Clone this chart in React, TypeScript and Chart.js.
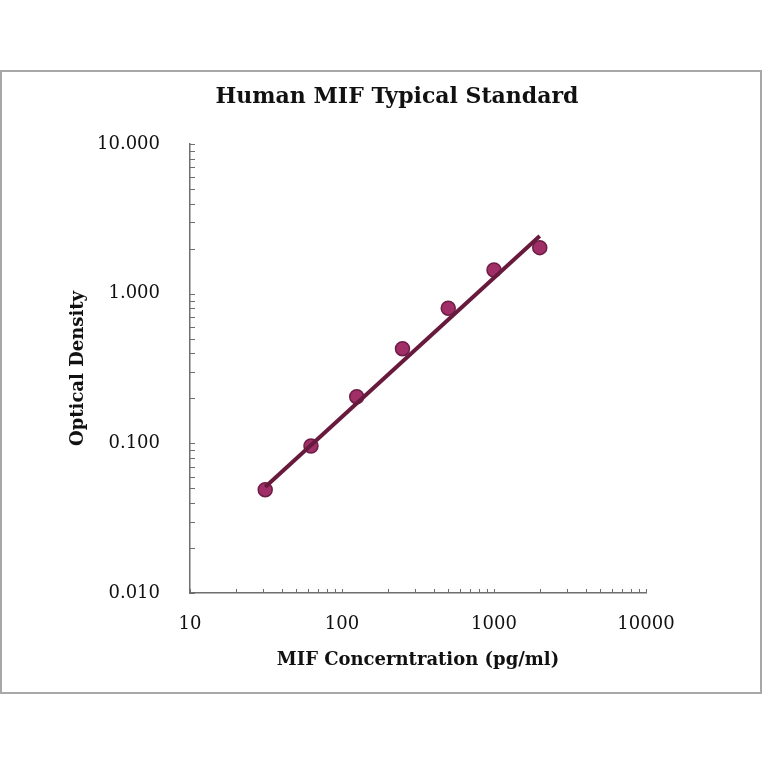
import { useEffect, useRef } from 'react';
import { Chart, registerables } from 'chart.js';

Chart.register(...registerables);

// standard curve (pg/ml vs OD)
const concentrations = [31.25, 62.5, 125, 250, 500, 1000, 2000];
const odValues = [0.049, 0.096, 0.205, 0.429, 0.8, 1.44, 2.03];

// fitted power trend line, end points
const fitX = [31.25, 2000];
const fitY = [0.051, 2.43];

const xMajor = [10, 100, 1000, 10000];
const xTickLabels = ['10', '100', '1000', '10000'];
const yMajor = [0.01, 0.1, 1, 10];
const yTickLabels = ['0.010', '0.100', '1.000', '10.000'];
const minorSteps = [1, 2, 3, 4, 5, 6, 7, 8, 9];

const chartTitle = 'Human MIF Typical Standard';
const xTitle = 'MIF Concerntration (pg/ml)';
const yTitle = 'Optical Density';

const FONT = "'DejaVu Serif', serif";
const AXIS_COLOR = '#6f6f6f';

const logTicks = (majors: number[]) => {
  const out: number[] = [];
  majors.slice(0, -1).forEach((m) => minorSteps.forEach((s) => out.push(m * s)));
  out.push(majors[majors.length - 1]);
  return out;
};

const labelFor = (majors: number[], labels: string[]) => (value: number | string) => {
  const v = Number(value);
  const i = majors.findIndex((m) => Math.abs(m - v) / m < 1e-6);
  return i >= 0 ? labels[i] : '';
};

// frame, title and inward tick marks
const decorPlugin = {
  id: 'decor',
  beforeDraw(chart: any) {
    const ctx = chart.ctx;
    ctx.save();
    ctx.fillStyle = '#ffffff';
    ctx.fillRect(0, 0, chart.width, chart.height);
    ctx.strokeStyle = '#a8a8a8';
    ctx.lineWidth = 2;
    ctx.strokeRect(1, 71, 760, 622);
    ctx.restore();
  },
  afterDraw(chart: any) {
    const ctx = chart.ctx;
    const { x, y } = chart.scales;
    ctx.save();
    ctx.strokeStyle = AXIS_COLOR;
    ctx.lineWidth = 1;
    ctx.beginPath();
    x.ticks.forEach((t: any) => {
      const px = Math.round(x.getPixelForValue(t.value)) + 0.5;
      ctx.moveTo(px, x.top);
      ctx.lineTo(px, x.top - 4);
    });
    y.ticks.forEach((t: any) => {
      const py = Math.round(y.getPixelForValue(t.value)) + 0.5;
      ctx.moveTo(y.right, py);
      ctx.lineTo(y.right + 5, py);
    });
    ctx.stroke();

    ctx.fillStyle = '#111111';
    ctx.font = `bold 22px ${FONT}`;
    ctx.textAlign = 'center';
    ctx.textBaseline = 'middle';
    ctx.fillText(chartTitle, 397, 97);
    ctx.restore();
  },
};

const StandardCurve = () => {
  const chartRef = useRef<HTMLCanvasElement>(null);
  const chartInstanceRef = useRef<Chart | null>(null);

  useEffect(() => {
    if (chartInstanceRef.current) {
      chartInstanceRef.current.destroy();
    }
    if (!chartRef.current) return;
    const ctx = chartRef.current.getContext('2d');
    if (!ctx) return;

    chartInstanceRef.current = new Chart(ctx, {
      type: 'scatter',
      data: {
        datasets: [
          {
            label: 'fit',
            data: fitX.map((v, i) => ({ x: v, y: fitY[i] })),
            showLine: true,
            borderColor: '#681a3d',
            borderWidth: 4,
            pointRadius: 0,
            order: 0,
          },
          {
            label: 'OD',
            data: concentrations.map((v, i) => ({ x: v, y: odValues[i] })),
            backgroundColor: '#a02f68',
            borderColor: '#6d1d45',
            borderWidth: 1.5,
            pointRadius: 7,
            order: 1,
          },
        ],
      },
      options: {
        responsive: false,
        maintainAspectRatio: false,
        animation: false,
        layout: { padding: { top: 144, bottom: 71, left: 0, right: 118 } },
        plugins: {
          legend: { display: false },
          tooltip: { enabled: false },
          title: { display: false },
        },
        scales: {
          x: {
            type: 'logarithmic',
            min: 10,
            max: 10000,
            grid: { display: false },
            border: { display: true, color: AXIS_COLOR, width: 1.5 },
            afterBuildTicks: (scale: any) => {
              scale.ticks = logTicks(xMajor).map((v) => ({ value: v }));
            },
            afterFit: (scale: any) => {
              scale.height = 100;
            },
            ticks: {
              autoSkip: false,
              maxRotation: 0,
              padding: 13,
              color: '#111111',
              font: { family: FONT, size: 18 },
              callback: labelFor(xMajor, xTickLabels),
            },
            title: {
              display: true,
              text: xTitle,
              color: '#111111',
              font: { family: FONT, size: 18, weight: 'bold' },
              padding: { top: 0, bottom: 22 },
            },
          },
          y: {
            type: 'logarithmic',
            min: 0.01,
            max: 10,
            grid: { display: false },
            border: { display: true, color: AXIS_COLOR, width: 1.5 },
            afterBuildTicks: (scale: any) => {
              scale.ticks = logTicks(yMajor).map((v) => ({ value: v }));
            },
            afterFit: (scale: any) => {
              scale.width = 190;
            },
            ticks: {
              autoSkip: false,
              padding: 22,
              color: '#111111',
              font: { family: FONT, size: 18 },
              callback: labelFor(yMajor, yTickLabels),
            },
            title: {
              display: true,
              text: yTitle,
              color: '#111111',
              font: { family: FONT, size: 18, weight: 'bold' },
              padding: { top: 68, bottom: 0 },
            },
          },
        },
      },
      plugins: [decorPlugin],
    });

    return () => {
      if (chartInstanceRef.current) {
        chartInstanceRef.current.destroy();
        chartInstanceRef.current = null;
      }
    };
  }, []);

  return <canvas ref={chartRef} width={764} height={764} style={{ width: 764, height: 764 }}></canvas>;
};

export default function App() {
  return (
    <div style={{ position: 'absolute', left: 0, top: 0, width: 764, height: 764, background: '#fff' }}>
      <StandardCurve />
    </div>
  );
}
